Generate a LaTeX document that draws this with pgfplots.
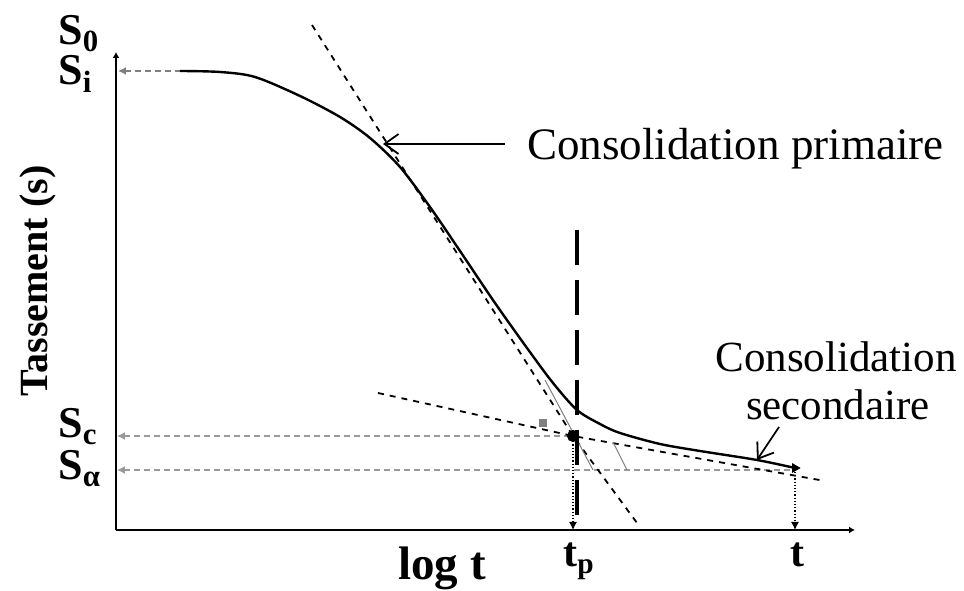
\documentclass[border=0pt]{standalone}
\usepackage{fontspec}
\setmainfont{Liberation Serif}
\usepackage{pgfplots}
\pgfplotsset{compat=1.18}
\usetikzlibrary{arrows.meta}

% Coordinates below are given on a 964 x 587 grid (y measured upwards),
% one grid unit = 0.5pt.
\newcommand{\lbl}[1]{\fontsize{22}{22}\selectfont\bfseries #1}

\begin{document}
\begin{tikzpicture}
\begin{axis}[
  scale only axis,
  width=369.5pt, height=239pt,
  xmin=116, xmax=855, ymin=57, ymax=535,
  axis lines=left,
  axis line style={line width=1.4pt, -{Latex[length=3pt,width=3.5pt]}},
  ticks=none,
  clip=false,
]
% frame of the whole figure
\path (axis cs:0,0) rectangle (axis cs:964,587);

% reference levels (dotted guides)
\addplot[gray, densely dashed, line width=0.8pt, {Latex[length=4pt,width=4pt]}-] coordinates {(118,516) (180,516)};
\addplot[gray!80, densely dashed, line width=0.7pt, {Latex[length=4pt,width=4pt]}-] coordinates {(117,151) (573,151)};
\addplot[gray!80, densely dashed, line width=0.7pt, {Latex[length=4pt,width=4pt]}-] coordinates {(117,117) (795,117)};
\addplot[black, densely dotted, line width=0.6pt, -{Latex[length=4pt,width=4pt]}] coordinates {(573,149) (573,57)};
\addplot[black, densely dotted, line width=0.6pt, -{Latex[length=4pt,width=4pt]}] coordinates {(795,115) (795,57)};

% tangent to the primary consolidation branch
\addplot[black, dashed, line width=0.9pt] coordinates {(312,562) (573,151) (640,60)};
% tangent to the secondary consolidation branch
\addplot[black, dashed, line width=0.9pt] coordinates {(378,194) (573,151) (825,106)};
% construction lines
\addplot[gray, line width=0.5pt] coordinates {(545,207) (593,117)};
\addplot[gray, line width=0.5pt] coordinates {(613,145) (627,117)};
\addplot[gray, only marks, mark=square*, mark size=1.8pt] coordinates {(543,164)};

% end of primary consolidation
\addplot[black, line width=2pt, dash pattern=on 17.5pt off 7.5pt] coordinates {(577,357) (577,67)};

% settlement curve
\addplot[black, smooth, line width=1.2pt] coordinates {
  (180,516) (220,515) (255,510) (300,491) (340,470) (370,449)
  (400,420) (430,380) (460,336) (495,284) (527,239) (553,204)
  (577,177) (600,163) (620,154) (660,143) (700,136) (757,127) (795,119)};

% points
\addplot[black, only marks, mark=*, mark size=2.8pt] coordinates {(573,151)};
\addplot[black, only marks, mark=triangle*, mark size=2.4pt, mark options={rotate=-90}] coordinates {(795,119)};

% annotations
\draw[line width=0.9pt, -{Straight Barb[length=7pt,width=10pt]}] (axis cs:505,443) -- (axis cs:383,443);
\draw[line width=0.9pt, -{Straight Barb[length=7pt,width=10pt]}] (axis cs:779,160) -- (axis cs:757,127);
\node[anchor=base west, inner sep=0pt, font=\fontsize{22.5}{22.5}\selectfont] at (axis cs:527,427) {Consolidation primaire};
\node[anchor=base, inner sep=0pt, font=\fontsize{21.5}{21.5}\selectfont] at (axis cs:836,215) {Consolidation};
\node[anchor=base, inner sep=0pt, font=\fontsize{21.5}{21.5}\selectfont] at (axis cs:838,167) {secondaire};

% level labels
\node[anchor=base west, inner sep=0pt] at (axis cs:58,542) {\lbl{S\textsubscript{0}}};
\node[anchor=base west, inner sep=0pt] at (axis cs:58,502) {\lbl{S\textsubscript{i}}};
\node[anchor=base west, inner sep=0pt] at (axis cs:58,149) {\lbl{S\textsubscript{c}}};
\node[anchor=base west, inner sep=0pt] at (axis cs:58,107) {\lbl{S\textsubscript{α}}};

% axis labels
\node[rotate=90, inner sep=0pt, font=\fontsize{20}{20}\selectfont\bfseries] at (axis cs:38,306) {Tassement (s)};
\node[anchor=base west, inner sep=0pt, font=\fontsize{23.5}{23.5}\selectfont\bfseries] at (axis cs:398,7) {log t};
\node[anchor=base west, inner sep=0pt, font=\fontsize{21}{21}\selectfont\bfseries] at (axis cs:563,20) {t\textsubscript{p}};
\node[anchor=base west, inner sep=0pt, font=\fontsize{21}{21}\selectfont\bfseries] at (axis cs:790,20) {t};
\end{axis}
\end{tikzpicture}
\end{document}
